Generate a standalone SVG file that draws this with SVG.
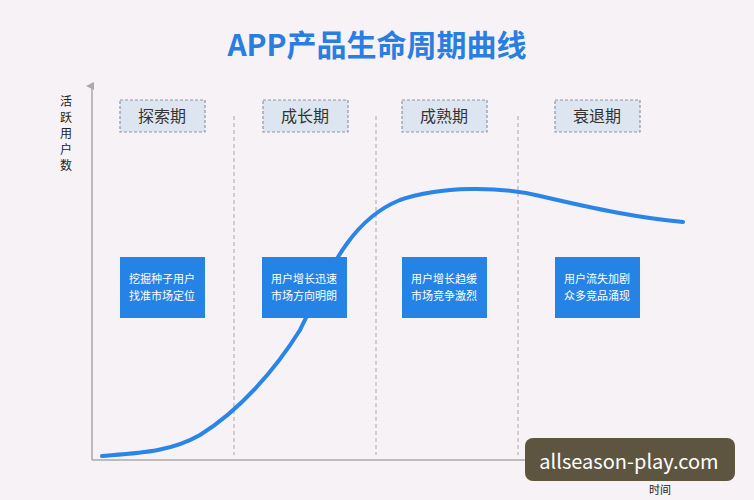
<svg xmlns="http://www.w3.org/2000/svg" width="754" height="500" viewBox="0 0 754 500">
<style>
text{font-family:"Noto Sans CJK SC","Liberation Sans",sans-serif}
.stage rect{fill:#dde6f0;stroke:#8a98a8;stroke-width:1.2;stroke-dasharray:3 2}
.stage text{font-size:16px;fill:#333;text-anchor:middle}
.desc rect{fill:#2583e6}
.desc text{font-size:11px;fill:#fff;text-anchor:middle}
.div{stroke:#aaa;stroke-width:1;stroke-dasharray:4 3}
</style>
<defs><marker id="ah" markerWidth="8" markerHeight="8" refX="4" refY="6" orient="auto" markerUnits="userSpaceOnUse"><path d="M0,8 L4,0 L8,8 Z" fill="#aaa"/></marker></defs>
<rect width="754" height="500" fill="#f7f2f5"/>
<text x="377" y="56" font-size="30" font-weight="bold" fill="#2a7de1" text-anchor="middle">APP产品生命周期曲线</text>
<g id="axes">
<line x1="92" y1="460" x2="92" y2="86" stroke="#aaa" stroke-width="1.5" marker-end="url(#ah)"/>
<line x1="92" y1="460" x2="700" y2="460" stroke="#aaa" stroke-width="1.5"/>
<text x="66" y="106" font-size="12" fill="#222" text-anchor="middle">活</text>
<text x="66" y="122" font-size="12" fill="#222" text-anchor="middle">跃</text>
<text x="66" y="138" font-size="12" fill="#222" text-anchor="middle">用</text>
<text x="66" y="154" font-size="12" fill="#222" text-anchor="middle">户</text>
<text x="66" y="170" font-size="12" fill="#222" text-anchor="middle">数</text>
<text x="660" y="494" font-size="11" fill="#222" text-anchor="middle">时间</text>
</g>
<g id="connectors">
<line class="div" x1="234" y1="116" x2="234" y2="455"/>
<line class="div" x1="376" y1="116" x2="376" y2="455"/>
<line class="div" x1="518" y1="116" x2="518" y2="455"/>
<path d="M102,456 C140,453 170,452 200,435 C240,410 275,370 300,330 C330,270 350,220 400,200 C440,186 500,186 540,196 C600,210 640,218 683,222" fill="none" stroke="#2a85e8" stroke-width="4" stroke-linecap="round"/>
</g>
<g id="s1" class="stage"><rect x="120" y="100" width="85" height="32"/><text x="162" y="122">探索期</text></g>
<g id="s2" class="stage"><rect x="263" y="100" width="85" height="32"/><text x="305" y="122">成长期</text></g>
<g id="s3" class="stage"><rect x="402" y="100" width="85" height="32"/><text x="444" y="122">成熟期</text></g>
<g id="s4" class="stage"><rect x="555" y="100" width="85" height="32"/><text x="597" y="122">衰退期</text></g>
<g id="d1" class="desc"><rect x="120" y="257" width="85" height="61"/><text x="162" y="283">挖掘种子用户</text><text x="162" y="300">找准市场定位</text></g>
<g id="d2" class="desc"><rect x="262" y="257" width="85" height="61"/><text x="304" y="283">用户增长迅速</text><text x="304" y="300">市场方向明朗</text></g>
<g id="d3" class="desc"><rect x="402" y="257" width="85" height="61"/><text x="444" y="283">用户增长趋缓</text><text x="444" y="300">市场竞争激烈</text></g>
<g id="d4" class="desc"><rect x="555" y="257" width="85" height="61"/><text x="597" y="283">用户流失加剧</text><text x="597" y="300">众多竞品涌现</text></g>
<g id="wm"><rect x="525" y="438" width="210" height="43" rx="8" fill="#5e5540"/><text x="629" y="469" font-size="20" fill="#fff" text-anchor="middle" font-family="Open Sans, sans-serif">allseason-play.com</text></g>
</svg>
